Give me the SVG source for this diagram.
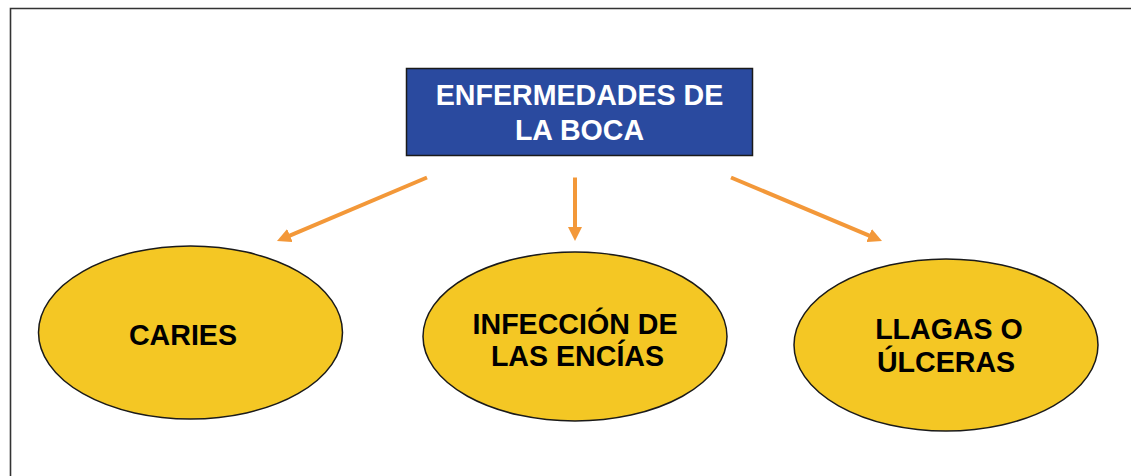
<svg xmlns="http://www.w3.org/2000/svg" width="1131" height="476" viewBox="0 0 1131 476">
<style>
.lbl{font-family:"Liberation Sans",Arial,sans-serif;font-weight:bold;font-size:28.6px;text-anchor:middle}
.node{fill:#F4C724;stroke:#1a1a1a;stroke-width:1.5}
.conn{stroke:#F39839;stroke-width:4;fill:none}
</style>
<defs>
<marker id="ah" markerUnits="userSpaceOnUse" markerWidth="14" markerHeight="14" refX="4" refY="7" orient="auto" viewBox="0 0 14 14">
<path d="M0,0 L14,7 L0,14 z" fill="#F39839"/>
</marker>
</defs>
<rect width="1131" height="476" fill="#fff"/>
<path d="M10.5,476 V8.5 H1131" fill="none" stroke="#333" stroke-width="1.6"/>
<g id="root">
<rect x="406.5" y="68.5" width="346" height="87" fill="#2A4A9F" stroke="#1a1a1a" stroke-width="1.5"/>
<text class="lbl" x="579.5" y="104.5" fill="#fff">ENFERMEDADES DE</text>
<text class="lbl" x="579.5" y="139.5" fill="#fff">LA BOCA</text>
</g>
<g id="connectors">
<line class="conn" x1="427" y1="177.5" x2="286.2" y2="237.1" marker-end="url(#ah)"/>
<line class="conn" x1="575" y1="177.5" x2="575" y2="231" marker-end="url(#ah)"/>
<line class="conn" x1="731" y1="177.5" x2="872.8" y2="237.1" marker-end="url(#ah)"/>
</g>
<g id="caries">
<ellipse class="node" cx="190.5" cy="332.5" rx="152" ry="86.5"/>
<text class="lbl" x="183" y="344.5">CARIES</text>
</g>
<g id="infeccion">
<ellipse class="node" cx="575" cy="336.5" rx="152" ry="84.5"/>
<text class="lbl" x="575" y="333.5">INFECCIÓN DE</text>
<text class="lbl" x="577.5" y="366">LAS ENCÍAS</text>
</g>
<g id="llagas">
<ellipse class="node" cx="946" cy="345" rx="152" ry="86"/>
<text class="lbl" x="949" y="338.5">LLAGAS O</text>
<text class="lbl" x="946" y="371.5">ÚLCERAS</text>
</g>
</svg>
